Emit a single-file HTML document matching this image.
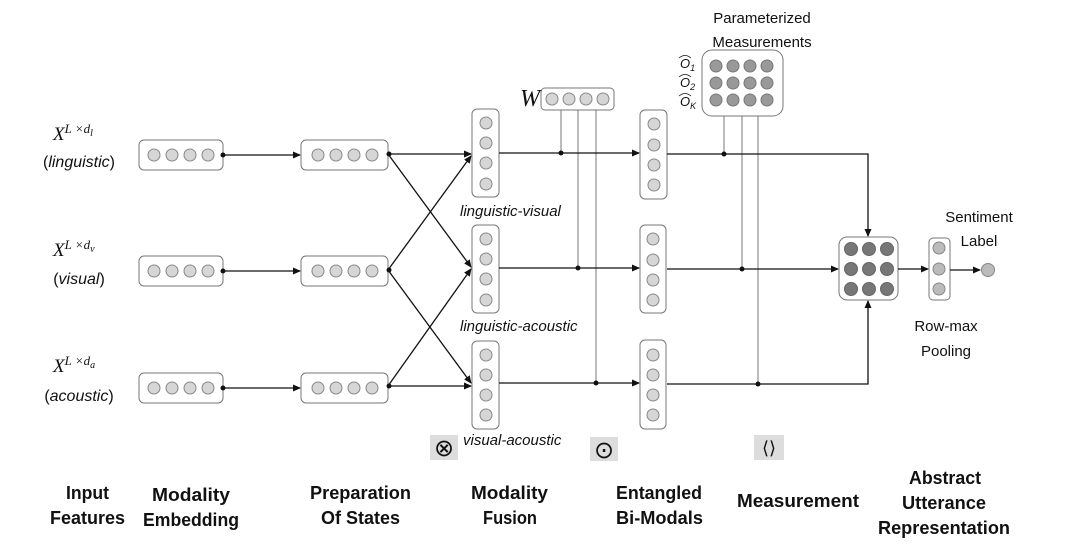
<!DOCTYPE html>
<html><head><meta charset="utf-8"><style>
html,body{margin:0;padding:0;background:#fff;}
svg text{font-family:"Liberation Sans",sans-serif;}
.it{font-style:italic;}
.b{font-family:"Liberation Sans",sans-serif;font-weight:bold;font-size:18px;}
.ser{font-family:"Liberation Serif",serif;font-style:italic;}
</style></head><body>
<svg width="1080" height="552" viewBox="0 0 1080 552" xmlns="http://www.w3.org/2000/svg">
<defs>
<marker id="a" markerWidth="8" markerHeight="8" refX="7" refY="4" orient="auto" markerUnits="userSpaceOnUse"><path d="M0,0.5 L8,4 L0,7.5 z" fill="#111"/></marker>
</defs>
<g stroke="#777" stroke-width="1" fill="#fff">
<rect x="139" y="140" width="84" height="30" rx="5"/>
<rect x="139" y="256" width="84" height="30" rx="5"/>
<rect x="139" y="373" width="84" height="30" rx="5"/>
<rect x="301" y="140" width="87" height="30" rx="5"/>
<rect x="301" y="256" width="87" height="30" rx="5"/>
<rect x="301" y="373" width="87" height="30" rx="5"/>
<rect x="472" y="109" width="27" height="88" rx="5"/>
<rect x="472" y="225" width="27" height="88" rx="5"/>
<rect x="472" y="341" width="27" height="88" rx="5"/>
<rect x="640" y="110" width="27" height="89" rx="5"/>
<rect x="640" y="225" width="26" height="88" rx="5"/>
<rect x="640" y="340" width="26" height="89" rx="5"/>
<rect x="541" y="88" width="73" height="22" rx="4"/>
<rect x="702" y="50" width="81" height="66" rx="10"/>
<rect x="839" y="237" width="59" height="63" rx="8"/>
<rect x="929" y="238" width="21" height="62" rx="4"/>
</g>
<g fill="#d6d6d6" stroke="#888" stroke-width="1">
<circle cx="154" cy="155" r="6"/><circle cx="172" cy="155" r="6"/><circle cx="190" cy="155" r="6"/><circle cx="208" cy="155" r="6"/>
<circle cx="154" cy="271" r="6"/><circle cx="172" cy="271" r="6"/><circle cx="190" cy="271" r="6"/><circle cx="208" cy="271" r="6"/>
<circle cx="154" cy="388" r="6"/><circle cx="172" cy="388" r="6"/><circle cx="190" cy="388" r="6"/><circle cx="208" cy="388" r="6"/>
<circle cx="318" cy="155" r="6"/><circle cx="336" cy="155" r="6"/><circle cx="354" cy="155" r="6"/><circle cx="372" cy="155" r="6"/>
<circle cx="318" cy="271" r="6"/><circle cx="336" cy="271" r="6"/><circle cx="354" cy="271" r="6"/><circle cx="372" cy="271" r="6"/>
<circle cx="318" cy="388" r="6"/><circle cx="336" cy="388" r="6"/><circle cx="354" cy="388" r="6"/><circle cx="372" cy="388" r="6"/>
<circle cx="486" cy="123" r="6"/><circle cx="486" cy="143" r="6"/><circle cx="486" cy="163" r="6"/><circle cx="486" cy="184" r="6"/>
<circle cx="486" cy="239" r="6"/><circle cx="486" cy="259" r="6"/><circle cx="486" cy="279" r="6"/><circle cx="486" cy="300" r="6"/>
<circle cx="486" cy="355" r="6"/><circle cx="486" cy="375" r="6"/><circle cx="486" cy="395" r="6"/><circle cx="486" cy="415" r="6"/>
<circle cx="654" cy="124" r="6"/><circle cx="654" cy="145" r="6"/><circle cx="654" cy="165" r="6"/><circle cx="654" cy="185" r="6"/>
<circle cx="653" cy="239" r="6"/><circle cx="653" cy="260" r="6"/><circle cx="653" cy="280" r="6"/><circle cx="653" cy="300" r="6"/>
<circle cx="653" cy="355" r="6"/><circle cx="653" cy="375" r="6"/><circle cx="653" cy="395" r="6"/><circle cx="653" cy="415" r="6"/>
<circle cx="552" cy="99" r="6"/><circle cx="569" cy="99" r="6"/><circle cx="586" cy="99" r="6"/><circle cx="603" cy="99" r="6"/>
</g>
<g fill="#999" stroke="#777" stroke-width="1">
<circle cx="716" cy="66" r="6"/><circle cx="733" cy="66" r="6"/><circle cx="750" cy="66" r="6"/><circle cx="767" cy="66" r="6"/>
<circle cx="716" cy="83" r="6"/><circle cx="733" cy="83" r="6"/><circle cx="750" cy="83" r="6"/><circle cx="767" cy="83" r="6"/>
<circle cx="716" cy="100" r="6"/><circle cx="733" cy="100" r="6"/><circle cx="750" cy="100" r="6"/><circle cx="767" cy="100" r="6"/>
</g>
<g fill="#777" stroke="#666" stroke-width="1">
<circle cx="851" cy="249" r="6.5"/><circle cx="869" cy="249" r="6.5"/><circle cx="887" cy="249" r="6.5"/>
<circle cx="851" cy="269" r="6.5"/><circle cx="869" cy="269" r="6.5"/><circle cx="887" cy="269" r="6.5"/>
<circle cx="851" cy="289" r="6.5"/><circle cx="869" cy="289" r="6.5"/><circle cx="887" cy="289" r="6.5"/>
</g>
<g fill="#bbb" stroke="#888" stroke-width="1">
<circle cx="939" cy="248" r="6"/><circle cx="939" cy="269" r="6"/><circle cx="939" cy="289" r="6"/>
<circle cx="988" cy="270" r="6.5"/>
</g>
<g stroke="#777" stroke-width="1">
<line x1="561" y1="110" x2="561" y2="153"/><line x1="578" y1="110" x2="578" y2="267"/><line x1="596" y1="110" x2="596" y2="383"/>
<line x1="724" y1="116" x2="724" y2="154"/><line x1="742" y1="116" x2="742" y2="269"/><line x1="758" y1="116" x2="758" y2="384"/>
</g>
<g stroke="#111" stroke-width="1.3" fill="none">
<line x1="223" y1="155" x2="300" y2="155" marker-end="url(#a)"/>
<line x1="223" y1="271" x2="300" y2="271" marker-end="url(#a)"/>
<line x1="223" y1="388" x2="300" y2="388" marker-end="url(#a)"/>
<line x1="388" y1="154" x2="471" y2="154" marker-end="url(#a)"/>
<line x1="388" y1="154" x2="471" y2="267" marker-end="url(#a)"/>
<line x1="388" y1="270" x2="471" y2="156" marker-end="url(#a)"/>
<line x1="388" y1="270" x2="471" y2="383" marker-end="url(#a)"/>
<line x1="388" y1="386" x2="471" y2="269" marker-end="url(#a)"/>
<line x1="388" y1="386" x2="471" y2="386" marker-end="url(#a)"/>
<line x1="499" y1="153" x2="639" y2="153" marker-end="url(#a)"/>
<line x1="499" y1="268" x2="639" y2="268" marker-end="url(#a)"/>
<line x1="499" y1="383" x2="639" y2="383" marker-end="url(#a)"/>
<polyline points="667,154 868,154 868,236" marker-end="url(#a)"/>
<line x1="667" y1="269" x2="838" y2="269" marker-end="url(#a)"/>
<polyline points="667,384 868,384 868,301" marker-end="url(#a)"/>
<line x1="898" y1="269" x2="928" y2="269" marker-end="url(#a)"/>
<line x1="950" y1="270" x2="980" y2="270" marker-end="url(#a)"/>
</g>
<g fill="#111">
<circle cx="223" cy="155" r="2.5"/><circle cx="223" cy="271" r="2.5"/><circle cx="223" cy="388" r="2.5"/>
<circle cx="389" cy="154" r="2.5"/><circle cx="389" cy="270" r="2.5"/><circle cx="389" cy="386" r="2.5"/>
<circle cx="561" cy="153" r="2.5"/><circle cx="578" cy="268" r="2.5"/><circle cx="596" cy="383" r="2.5"/>
<circle cx="724" cy="154" r="2.5"/><circle cx="742" cy="269" r="2.5"/><circle cx="758" cy="384" r="2.5"/>
</g>
<g font-size="16" fill="#111">
<text x="53" y="140" class="ser" font-size="19">X<tspan font-size="13" dy="-7">L ×d</tspan><tspan font-size="10" dy="3">l</tspan></text>
<text x="79" y="167" text-anchor="middle">(<tspan class="it">linguistic</tspan>)</text>
<text x="53" y="256" class="ser" font-size="19">X<tspan font-size="13" dy="-7">L ×d</tspan><tspan font-size="10" dy="3">v</tspan></text>
<text x="79" y="284" text-anchor="middle">(<tspan class="it">visual</tspan>)</text>
<text x="53" y="372" class="ser" font-size="19">X<tspan font-size="13" dy="-7">L ×d</tspan><tspan font-size="10" dy="3">a</tspan></text>
<text x="79" y="401" text-anchor="middle">(<tspan class="it">acoustic</tspan>)</text>
</g>
<g font-size="15" fill="#111" class="it">
<text x="460" y="216" class="it">linguistic-visual</text>
<text x="460" y="331" class="it">linguistic-acoustic</text>
<text x="463" y="445" class="it">visual-acoustic</text>
</g>
<text x="520" y="106" class="ser" font-size="24" fill="#111">W</text>
<g font-size="15" fill="#111" text-anchor="middle">
<text x="762" y="23">Parameterized</text>
<text x="762" y="47">Measurements</text>
<text x="979" y="222">Sentiment</text>
<text x="979" y="246">Label</text>
<text x="946" y="331">Row-max</text>
<text x="946" y="356">Pooling</text>
</g>
<g class="ser" font-size="13" fill="#111">
<text x="680" y="68">O<tspan font-size="9" dy="3">1</tspan></text>
<text x="680" y="87">O<tspan font-size="9" dy="3">2</tspan></text>
<text x="680" y="106">O<tspan font-size="9" dy="3">K</tspan></text>
</g>
<g stroke="#111" stroke-width="0.8" fill="none">
<path d="M679,58 Q685,53 691,58"/><path d="M679,77 Q685,72 691,77"/><path d="M679,96 Q685,91 691,96"/>
</g>
<rect x="430" y="435" width="28" height="25" fill="#ddd"/>
<text x="444" y="456" font-size="24" text-anchor="middle" fill="#111">⊗</text>
<rect x="590" y="437" width="28" height="24" fill="#ddd"/>
<text x="604" y="458" font-size="24" text-anchor="middle" fill="#111">⊙</text>
<rect x="754" y="435" width="30" height="25" fill="#ddd"/>
<text x="769" y="454" font-size="18" text-anchor="middle" fill="#111">⟨⟩</text>
<g fill="#111">
<text x="66" y="499" class="b" textLength="43" lengthAdjust="spacingAndGlyphs">Input</text>
<text x="50" y="524" class="b" textLength="75" lengthAdjust="spacingAndGlyphs">Features</text>
<text x="152" y="501" class="b" textLength="78" lengthAdjust="spacingAndGlyphs">Modality</text>
<text x="143" y="526" class="b" textLength="96" lengthAdjust="spacingAndGlyphs">Embedding</text>
<text x="310" y="499" class="b" textLength="101" lengthAdjust="spacingAndGlyphs">Preparation</text>
<text x="321" y="524" class="b" textLength="79" lengthAdjust="spacingAndGlyphs">Of States</text>
<text x="471" y="499" class="b" textLength="77" lengthAdjust="spacingAndGlyphs">Modality</text>
<text x="483" y="524" class="b" textLength="54" lengthAdjust="spacingAndGlyphs">Fusion</text>
<text x="616" y="499" class="b" textLength="86" lengthAdjust="spacingAndGlyphs">Entangled</text>
<text x="616" y="524" class="b" textLength="87" lengthAdjust="spacingAndGlyphs">Bi-Modals</text>
<text x="737" y="507" class="b" textLength="122" lengthAdjust="spacingAndGlyphs">Measurement</text>
<text x="909" y="484" class="b" textLength="72" lengthAdjust="spacingAndGlyphs">Abstract</text>
<text x="902" y="509" class="b" textLength="84" lengthAdjust="spacingAndGlyphs">Utterance</text>
<text x="878" y="534" class="b" textLength="132" lengthAdjust="spacingAndGlyphs">Representation</text>
</g>
</svg>
</body></html>
